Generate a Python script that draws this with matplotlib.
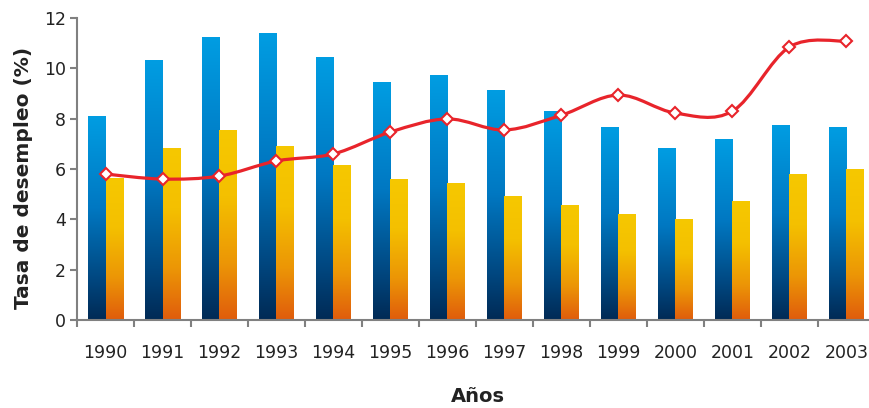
import numpy as np
import matplotlib
matplotlib.use("Agg")
import matplotlib.pyplot as plt
from matplotlib.colors import LinearSegmentedColormap
from matplotlib.path import Path
from matplotlib.patches import PathPatch

years = ["1990", "1991", "1992", "1993", "1994", "1995", "1996",
         "1997", "1998", "1999", "2000", "2001", "2002", "2003"]
blue_vals = [8.1, 10.33, 11.24, 11.4, 10.45, 9.42, 9.7, 9.1, 8.3, 7.63, 6.83, 7.19, 7.71, 7.63]
yellow_vals = [5.64, 6.83, 7.51, 6.91, 6.12, 5.6, 5.44, 4.89, 4.53, 4.21, 4.01, 4.69, 5.8, 6.0]
line_vals = [5.8, 5.6, 5.72, 6.32, 6.6, 7.47, 7.99, 7.55, 8.14, 8.94, 8.22, 8.3, 10.85, 11.08]

fig = plt.figure(figsize=(8.7, 4.08), dpi=100)
ax = fig.add_axes([77/870, 88/408, 798/870, 302/408])

n = len(years)
x = np.arange(n)
w = 0.30

blue_cmap = LinearSegmentedColormap.from_list(
    "blue", [(0.0, "#002a55"), (0.2, "#004780"), (0.55, "#0078c2"), (1.0, "#009de2")])
yellow_cmap = LinearSegmentedColormap.from_list(
    "yellow", [(0.0, "#e05c0c"), (0.3, "#ec9606"), (0.65, "#f4c000"), (1.0, "#f6c800")])
grad = np.linspace(0, 1, 256).reshape(-1, 1)

bb = ax.bar(x - w/2, blue_vals, width=w, color="none", zorder=2)
yb = ax.bar(x + w/2, yellow_vals, width=w, color="none", zorder=2)
for bars, cmap in ((bb, blue_cmap), (yb, yellow_cmap)):
    for r in bars:
        x0, y0, ww, hh = r.get_x(), r.get_y(), r.get_width(), r.get_height()
        ax.imshow(grad, cmap=cmap, origin="lower", aspect="auto",
                  extent=(x0, x0 + ww, y0, y0 + hh), zorder=2, interpolation="bilinear")

# smooth line via Catmull-Rom bezier segments
pts = np.column_stack([x, line_vals]).astype(float)
verts = [tuple(pts[0])]
codes = [Path.MOVETO]
for i in range(n - 1):
    p0 = pts[max(i - 1, 0)]
    p1 = pts[i]
    p2 = pts[i + 1]
    p3 = pts[min(i + 2, n - 1)]
    c1 = p1 + (p2 - p0) / 6.0
    c2 = p2 - (p3 - p1) / 6.0
    verts += [tuple(c1), tuple(c2), tuple(p2)]
    codes += [Path.CURVE4] * 3
ax.add_patch(PathPatch(Path(verts, codes), facecolor="none", edgecolor="#e8242b",
                       lw=2.3, zorder=3, capstyle="round"))
ax.plot(x, line_vals, linestyle="none", marker="D", markersize=6.5,
        markerfacecolor="white", markeredgecolor="#e8242b", markeredgewidth=1.5, zorder=4)

ax.set_xlim(-0.5, n - 0.5)
ax.set_ylim(0, 12)
ax.set_yticks(range(0, 13, 2))
ax.set_xticks(x)
ax.set_xticklabels(years)
ax.set_xticks(np.arange(-0.5, n, 1.0), minor=True)
ax.tick_params(axis="x", which="major", length=0, pad=17, labelsize=12.5, labelcolor="#222222")
ax.tick_params(axis="x", which="minor", length=5, width=1.5, color="#808080", direction="out")
ax.tick_params(axis="y", length=5, width=1.5, color="#808080", direction="out",
               pad=3, labelsize=12.5, labelcolor="#222222")

for s in ("top", "right"):
    ax.spines[s].set_visible(False)
for s in ("left", "bottom"):
    ax.spines[s].set_color("#808080")
    ax.spines[s].set_linewidth(1.5)

ax.set_ylabel("Tasa de desempleo (%)", fontsize=14.5, fontweight="bold", color="#222222")
ax.yaxis.set_label_coords(-44/798, 0.47)
fig.text(478/870, 1 - 397/408, "Años", fontsize=14, fontweight="bold", color="#222222",
         ha="center", va="center")

fig.savefig("out.png", dpi=100)
